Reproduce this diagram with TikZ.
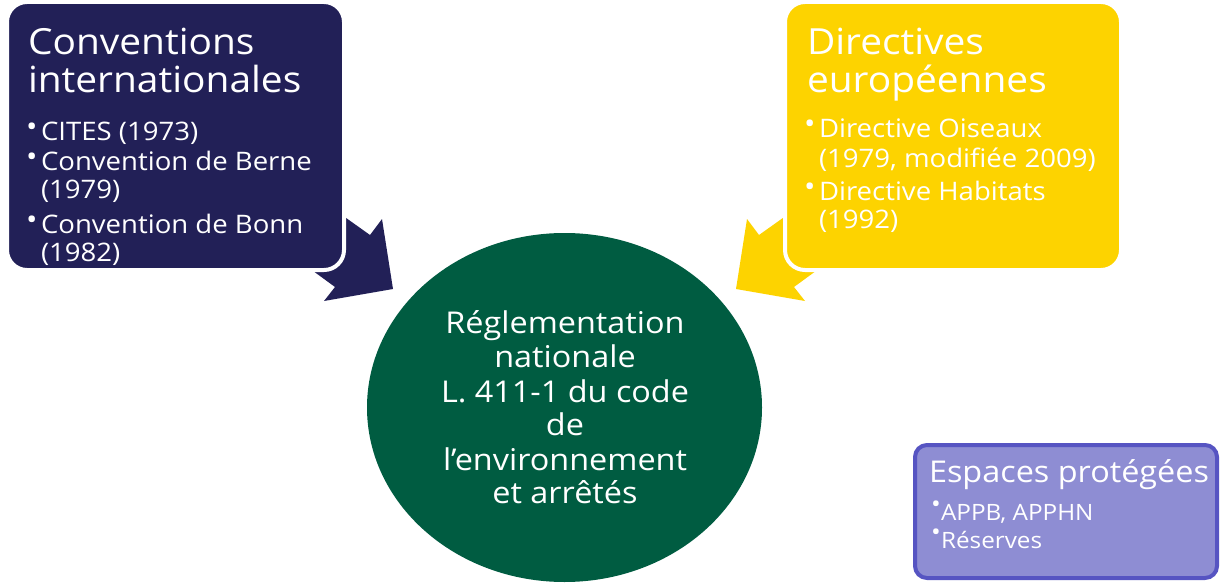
\documentclass[tikz,border=0pt]{standalone}
\usepackage{fontspec}
\setmainfont[FakeStretch=1.08]{Open Sans}
\usetikzlibrary{shapes.geometric}
\definecolor{navy}{HTML}{222057}
\definecolor{gold}{HTML}{FDD300}
\definecolor{forest}{HTML}{005C41}
\definecolor{lilac}{HTML}{8E8DD3}
\definecolor{lilacdark}{HTML}{5654C2}
\tikzset{
  box/.style={rectangle, rounded corners=20pt, draw=white, line width=4pt, inner sep=0pt, outer sep=0pt},
  ln/.style={anchor=base west, inner sep=0pt, outer sep=0pt, text=white},
  cl/.style={anchor=base, inner sep=0pt, outer sep=0pt, text=white, font=\fontsize{30}{30}\selectfont},
  ttl/.style={ln, font=\fontsize{36}{36}\selectfont},
  itm/.style={ln, font=\fontsize{25.5}{25.5}\selectfont},
  pttl/.style={ln, font=\fontsize{30}{30}\selectfont},
  pitm/.style={ln, font=\fontsize{22.5}{22.5}\selectfont},
}
\newcommand{\bul}[3]{\makebox[#1][l]{\raisebox{#2}{\fontsize{#3}{#3}\selectfont •}}}
\begin{document}
\begin{tikzpicture}[x=1pt,y=-1pt]
\useasboundingbox (0,0) rectangle (1220,583);
% block arrows
\fill[navy] (266,161) -- (370,235) -- (382,219) -- (393,289) -- (324,301) -- (335,287) -- (238,216) -- cycle;
\fill[gold] (863,161) -- (759,235) -- (747,219) -- (736,289) -- (805,301) -- (794,287) -- (891,216) -- cycle;
% boxes
\node[box, fill=navy, minimum width=337pt, minimum height=268pt] (conv) at (175.5,136) {};
\node[box, fill=gold, minimum width=336pt, minimum height=268pt] (dir) at (953,136) {};
\node[rectangle, rounded corners=12pt, draw=lilacdark, fill=lilac, line width=4pt, inner sep=0pt, outer sep=0pt, minimum width=302pt, minimum height=133pt] (esp) at (1066,511.5) {};
\node[ellipse, fill=forest, inner sep=0pt, outer sep=0pt, minimum width=395pt, minimum height=349pt] (nat) at (564.5,407.5) {};
% navy text
\node[ttl] (c1) at (28,55) {Conventions};
\node[ttl] (c2) at (28,93) {internationales};
\node[itm] (c3) at (26,140) {\bul{15pt}{4pt}{28}CITES (1973)};
\node[itm] (c4) at (26,170) {\bul{15pt}{4pt}{28}Convention de Berne};
\node[itm] (c5) at (41,198) {(1979)};
\node[itm] (c6) at (26,233) {\bul{15pt}{4pt}{28}Convention de Bonn};
\node[itm] (c7) at (41,261) {(1982)};
% yellow text
\node[ttl] (d1) at (807,55) {Directives};
\node[ttl] (d2) at (807,93) {européennes};
\node[itm] (d3) at (804,138) {\bul{15pt}{4pt}{28}Directive Oiseaux};
\node[itm] (d4) at (819,167) {(1979, modifiée 2009)};
\node[itm] (d5) at (804,200) {\bul{15pt}{4pt}{28}Directive Habitats};
\node[itm] (d6) at (819,228) {(1992)};
% circle text
\node[cl] (n1) at (565,333) {Réglementation};
\node[cl] (n2) at (565,367) {nationale};
\node[cl] (n3) at (565,402) {L. 411-1 du code};
\node[cl] (n4) at (565,435) {de};
\node[cl] (n5) at (565,470) {l’environnement};
\node[cl] (n6) at (565,503) {et arrêtés};
% purple text
\node[pttl] (e1) at (929,482) {Espaces protégées};
\node[pitm] (e2) at (931,520) {\bul{10pt}{8pt}{24}APPB, APPHN};
\node[pitm] (e3) at (931,548) {\bul{10pt}{8pt}{24}Réserves};
\end{tikzpicture}
\end{document}
